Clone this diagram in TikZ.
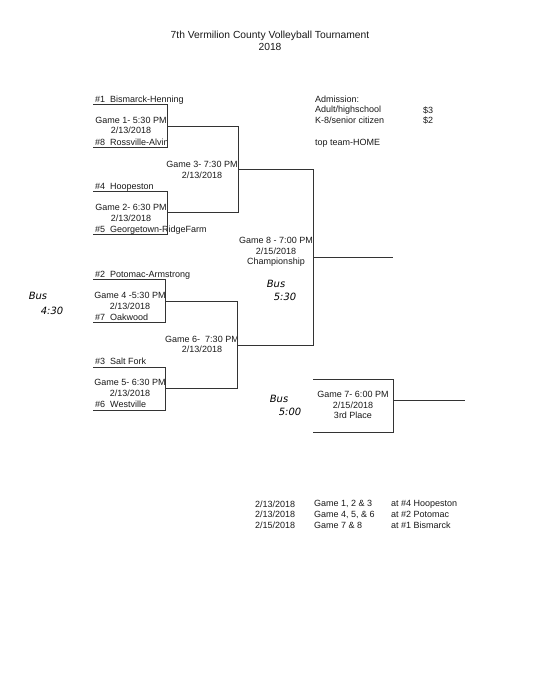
\documentclass[tikz,border=0pt]{standalone}
\usepackage{fontspec}
\setmainfont{Liberation Sans}
\newfontfamily\handfont{DejaVu Sans}
\begin{document}
\begin{tikzpicture}[x=1pt,y=-1pt,
  txt/.style={inner sep=0pt,font=\fontsize{9}{10.6}\selectfont,text=black!90},
  team/.style={txt,anchor=base west},
  game/.style={txt,align=center},
  hand/.style={inner sep=0pt,font=\handfont\itshape\fontsize{10}{11}\selectfont,text=black},
  ln/.style={draw=black!80,line width=1pt}]
\useasboundingbox (0,0) rectangle (541,700);
% title
\node[txt,font=\fontsize{10.3}{12.5}\selectfont,align=center] (title) at (270,41) {7th Vermilion County Volleyball Tournament\\2018};
% teams
\node[team] (t1) at (95,102.3) {\#1\ \ Bismarck-Henning};
\node[team] (t8) at (95,145.3) {\#8\ \ Rossville-Alvin};
\node[team] (t4) at (95,189.3) {\#4\ \ Hoopeston};
\node[team] (t5) at (95,232.3) {\#5\ \ Georgetown-RidgeFarm};
\node[team] (t2) at (95,277.3) {\#2\ \ Potomac-Armstrong};
\node[team] (t7) at (95,320.3) {\#7\ \ Oakwood};
\node[team] (t3) at (95,364.3) {\#3\ \ Salt Fork};
\node[team] (t6) at (95,407.3) {\#6\ \ Westville};
% game labels
\node[game] (g1) at (131,125.5) {Game 1- 5:30 PM\\2/13/2018};
\node[game] (g2) at (131,213) {Game 2- 6:30 PM\\2/13/2018};
\node[game] (g3) at (202,170) {Game 3- 7:30 PM\\2/13/2018};
\node[game] (g4) at (130,301) {Game 4 -5:30 PM\\2/13/2018};
\node[game] (g5) at (130,388) {Game 5- 6:30 PM\\2/13/2018};
\node[game] (g6) at (202,344.5) {Game 6-\ \ 7:30 PM\\2/13/2018};
\node[game] (g8) at (276,252) {Game 8 - 7:00 PM\\2/15/2018\\Championship};
\node[game] (g7) at (353,405) {Game 7- 6:00 PM\\2/15/2018\\3rd Place};
% handwritten notes
\node[hand] (b1) at (38,296) {Bus};
\node[hand] (b1t) at (52,311) {4:30};
\node[hand] (b2) at (276,284) {Bus};
\node[hand] (b2t) at (285,297) {5:30};
\node[hand] (b3) at (279,399) {Bus};
\node[hand] (b3t) at (290,412) {5:00};
% admission
\node[txt,anchor=west] (adm) at (315,99) {Admission:};
\node[txt,anchor=west] (adult) at (315,110) {Adult/highschool};
\node[txt,anchor=west] (k8) at (315,120) {K-8/senior citizen};
\node[txt,anchor=west] (p3) at (423,110) {\$3};
\node[txt,anchor=west] (p2) at (423,120) {\$2};
\node[txt,anchor=west] (home) at (315,143) {top team-HOME};
% schedule
\node[txt,anchor=west] (d1) at (255,504) {2/13/2018};
\node[txt,anchor=west] (d2) at (255,514.5) {2/13/2018};
\node[txt,anchor=west] (d3) at (255,525) {2/15/2018};
\node[txt,anchor=west] (s1) at (314,504) {Game 1, 2 \& 3};
\node[txt,anchor=west] (s2) at (314,514.5) {Game 4, 5, \& 6};
\node[txt,anchor=west] (s3) at (314,525) {Game 7 \& 8};
\node[txt,anchor=west] (l1) at (391,504) {at \#4 Hoopeston};
\node[txt,anchor=west] (l2) at (391,514.5) {at \#2 Potomac};
\node[txt,anchor=west] (l3) at (391,525) {at \#1 Bismarck};
% bracket coordinates
\coordinate (a1) at (93,105);  \coordinate (a1r) at (167,105);
\coordinate (a8) at (93,148);  \coordinate (a8r) at (167,148);
\coordinate (g1o) at (167,127); \coordinate (g1e) at (238,127);
\coordinate (a4) at (93,192);  \coordinate (a4r) at (167,192);
\coordinate (a5) at (93,235);  \coordinate (a5r) at (167,235);
\coordinate (g2o) at (167,213); \coordinate (g2e) at (238,213);
\coordinate (g3o) at (238,170); \coordinate (g3e) at (313,170);
\coordinate (a2) at (93,279);  \coordinate (a2r) at (165,279);
\coordinate (a7) at (93,322);  \coordinate (a7r) at (165,322);
\coordinate (g4o) at (165,301); \coordinate (g4e) at (237,301);
\coordinate (a3) at (93,367);  \coordinate (a3r) at (165,367);
\coordinate (a6) at (93,410);  \coordinate (a6r) at (165,410);
\coordinate (g5o) at (165,388); \coordinate (g5e) at (237,388);
\coordinate (g6o) at (237,345); \coordinate (g6e) at (313,345);
\coordinate (g8o) at (313,257); \coordinate (g8e) at (393,257);
\coordinate (g7a) at (313,379); \coordinate (g7b) at (393,379);
\coordinate (g7c) at (393,432); \coordinate (g7d) at (313,432);
\coordinate (g7o) at (393,400); \coordinate (g7e) at (465,400);
% bracket lines
\draw[ln] (a1) -- (a1r) -- (a8r) -- (a8);
\draw[ln] (g1o) -- (g1e) -- (g2e) -- (g2o);
\draw[ln] (a4) -- (a4r) -- (a5r) -- (a5);
\draw[ln] (g3o) -- (g3e) -- (g6e) -- (g6o);
\draw[ln] (a2) -- (a2r) -- (a7r) -- (a7);
\draw[ln] (g4o) -- (g4e) -- (g5e) -- (g5o);
\draw[ln] (a3) -- (a3r) -- (a6r) -- (a6);
\draw[ln] (g8o) -- (g8e);
\draw[ln] (g7a) -- (g7b) -- (g7c) -- (g7d);
\draw[ln] (g7o) -- (g7e);
\end{tikzpicture}
\end{document}
